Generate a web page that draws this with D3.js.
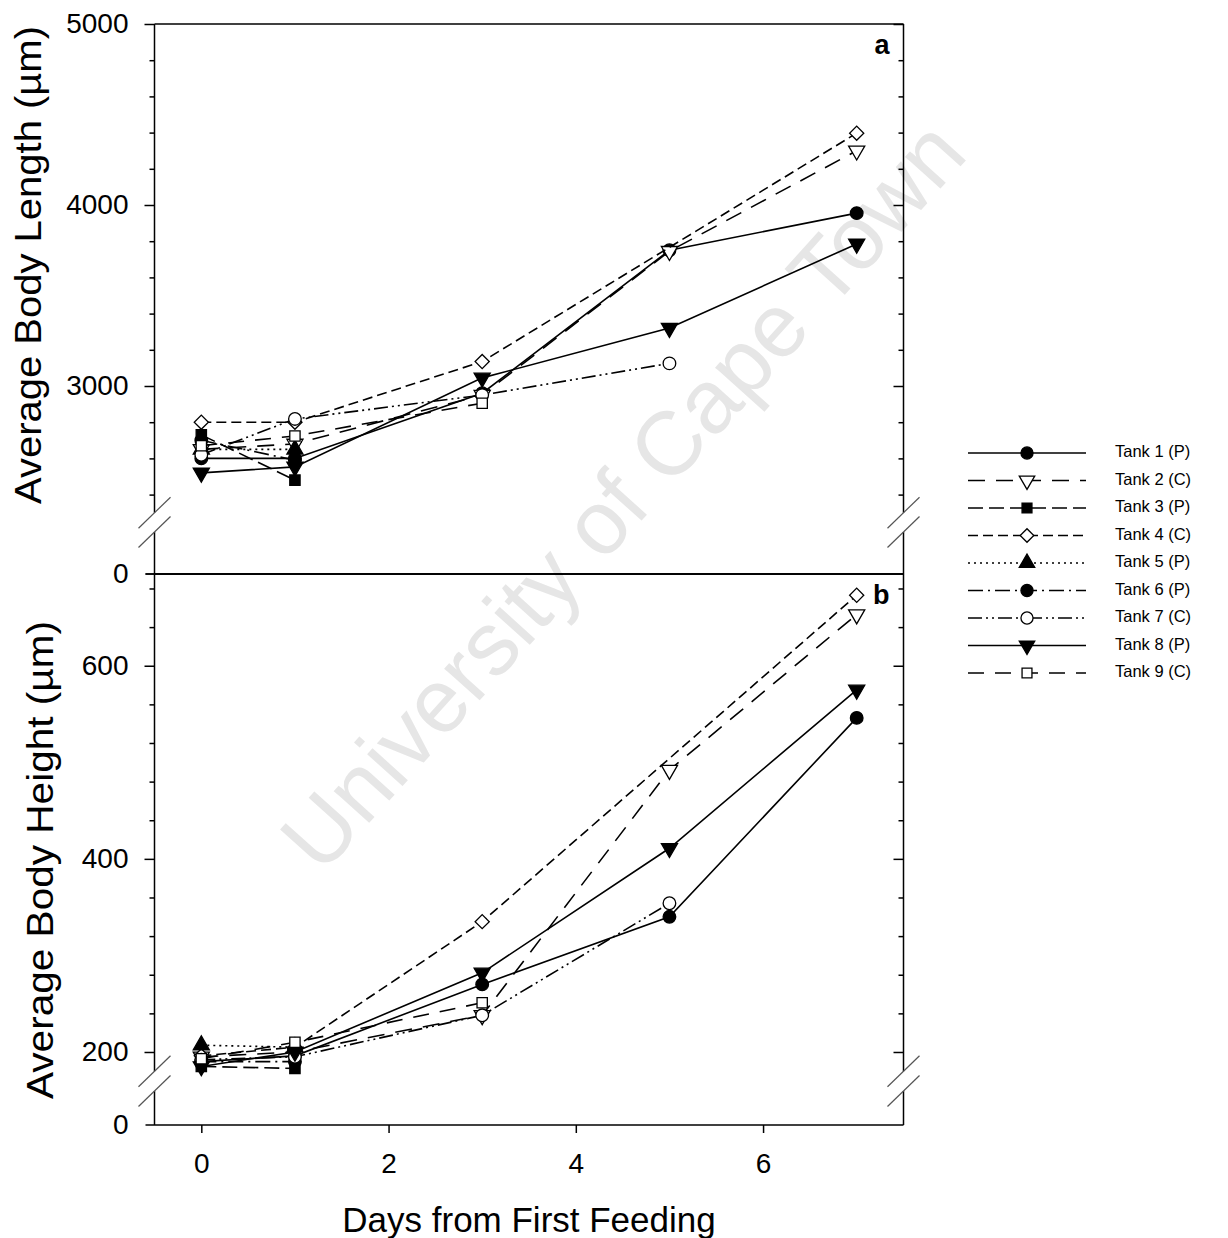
<!DOCTYPE html>
<html lang="en">
<head>
  <meta charset="UTF-8">
  <title>Body length and height</title>
  <script src="https://cdn.jsdelivr.net/npm/d3@7"></script>
  <style>
    body { margin: 0; background: #fff; }
    svg { display: block; }
    text { font-family: "Liberation Sans", Arial, sans-serif; fill: #000; }
  </style>
</head>
<body>
  <svg id="chart" width="1228" height="1238"></svg>
  <script>
    // Data (null = no sample that day)
    const days = [0, 1, 3, 5, 7];
    const tanks = ["Tank 1 (P)", "Tank 2 (C)", "Tank 3 (P)", "Tank 4 (C)", "Tank 5 (P)",
                   "Tank 6 (P)", "Tank 7 (C)", "Tank 8 (P)", "Tank 9 (C)"];

    // panel a: average body length (um)
    const bodyLength = [
      [2600, 2600, 2960, 3750, 3955],
      [2650, 2680, 2950, 3745, 4300],
      [2730, 2480, null, null, null],
      [2800, 2800, 3135, null, 4397],
      [2650, 2650, null, null, null],
      [2700, 2590, null, null, null],
      [2620, 2818, 2950, 3125, null],
      [2520, 2553, 3045, 3320, 3785],
      [2670, 2724, 2905, null, null]
    ];
    // panel b: average body height (um)
    const bodyHeight = [
      [190, 196, 270, 340, 546],
      [195, 200, 238, 492, 653],
      [185, 183, null, null, null],
      [196, 205, 335, null, 673],
      [207, 205, null, null, null],
      [190, 190, null, null, null],
      [192, 195, 238, 354, null],
      [185, 200, 282, 411, 575],
      [193, 210, 251, null, null]
    ];

    const xTicks = [0, 2, 4, 6];
    const lengthTicks = [3000, 4000, 5000];
    const heightTicks = [200, 400, 600];

    const symbols = ["circle", "triDownOpen", "square", "diamondOpen", "triUp",
                     "circle", "circleOpen", "triDown", "squareOpen"];
    const dashes = [null, "17,11", "15,6", "10,5", "2,4", "15,5,2,5", "14,4,2,4,2,4", null, "16,11"];

    const svg = d3.select("#chart");
    const left = 154.5, right = 903.5;

    // watermark
    svg.append("text")
      .attr("transform", "translate(628,500) rotate(-48)")
      .attr("text-anchor", "middle")
      .attr("dominant-baseline", "middle")
      .style("font-size", "90px")
      .style("fill", "#e6e6e6")
      .text("University of Cape Town");

    const x = d3.scaleLinear().domain([-0.5, 7.5]).range([left, right]);

    const panels = [
      { data: bodyLength, y: d3.scaleLinear().domain([2300, 5000]).range([512.7, 24]),
        low: d3.scaleLinear().domain([0, 100]).range([574, 532]),
        majors: lengthTicks, minorStep: 200, top: 24, label: "a",
        title: "Average Body Length (\u00b5m)", titleX: 31, titleY: 265 },
      { data: bodyHeight, y: d3.scaleLinear().domain([180, 695]).range([1071.3, 574]),
        low: d3.scaleLinear().domain([0, 10]).range([1125, 1091]),
        majors: heightTicks, minorStep: 40, top: 574, label: "b",
        title: "Average Body Height (\u00b5m)", titleX: 43, titleY: 860 }
    ];

    function markerPath(kind, size) {
      const base = kind.replace("Open", "");
      let type = d3.symbolCircle, s = size, rot = 0;
      if (base === "square") { type = d3.symbolSquare; s = size * 0.85; }
      if (base === "diamond") { type = d3.symbolSquare; s = size * 0.8; rot = 45; }
      if (base === "triUp") { type = d3.symbolTriangle; s = size * 0.9; }
      if (base === "triDown") { type = d3.symbolTriangle; s = size * 0.9; rot = 180; }
      return { d: d3.symbol().type(type).size(s)(), rot, open: kind.endsWith("Open") };
    }

    function drawMarker(g, kind, cx, cy, size) {
      const m = markerPath(kind, size);
      g.append("path")
        .attr("d", m.d)
        .attr("transform", `translate(${cx},${cy}) rotate(${m.rot})`)
        .attr("fill", m.open ? "#fff" : "#000")
        .attr("stroke", "#000")
        .attr("stroke-width", 1.3);
    }

    panels.forEach(p => {
      const g = svg.append("g");
      const yTop = p.y.range()[1], yBreak = p.y.range()[0];
      const lowTop = p.low.range()[1], lowBottom = p.low.range()[0];

      // series
      p.data.forEach((row, t) => {
        const pts = days.map((d, i) => ({ d, v: row[i] })).filter(q => q.v != null);
        g.append("path")
          .datum(pts)
          .attr("fill", "none")
          .attr("stroke", "#000")
          .attr("stroke-width", 1.6)
          .attr("stroke-dasharray", dashes[t])
          .attr("d", d3.line().x(q => x(q.d)).y(q => p.y(q.v)));
        pts.forEach(q => drawMarker(g, symbols[t], x(q.d), p.y(q.v), 125));
      });

      // axis lines (broken)
      [left, right].forEach(ax => {
        g.append("line").attr("x1", ax).attr("x2", ax).attr("y1", yTop).attr("y2", yBreak)
          .attr("stroke", "#000").attr("stroke-width", 1.5);
        g.append("line").attr("x1", ax).attr("x2", ax).attr("y1", lowTop).attr("y2", lowBottom)
          .attr("stroke", "#000").attr("stroke-width", 1.5);
        [yBreak, lowTop].forEach(yb => {
          g.append("line")
            .attr("x1", ax - 16).attr("y1", yb + 15.5)
            .attr("x2", ax + 16).attr("y2", yb - 15.5)
            .attr("stroke", "#555").attr("stroke-width", 1.2);
        });
      });
      // top and bottom edges
      g.append("line").attr("x1", left).attr("x2", right).attr("y1", yTop).attr("y2", yTop)
        .attr("stroke", "#000").attr("stroke-width", 1.5);
      g.append("line").attr("x1", left - 9).attr("x2", right).attr("y1", lowBottom).attr("y2", lowBottom)
        .attr("stroke", "#000").attr("stroke-width", 1.5);

      const lo = p.y.domain()[0], hi = p.y.domain()[1];
      const minors = d3.range(Math.ceil(lo / p.minorStep) * p.minorStep, hi + 1, p.minorStep)
        .filter(v => !p.majors.includes(v));

      // left major ticks + labels
      const la = g.append("g").attr("transform", `translate(${left},0)`)
        .call(d3.axisLeft(p.y).tickValues(p.majors).tickSize(10).tickPadding(16).tickFormat(d3.format("d")));
      la.append("g").call(d3.axisLeft(p.low).tickValues([0]).tickSize(0).tickPadding(26));
      const lm = g.append("g").attr("transform", `translate(${left},0)`)
        .call(d3.axisLeft(p.y).tickValues(minors).tickSize(5).tickFormat(""));
      // right ticks, inward
      const ra = g.append("g").attr("transform", `translate(${right},0)`)
        .call(d3.axisLeft(p.y).tickValues(p.majors).tickSize(10).tickFormat(""));
      const rm = g.append("g").attr("transform", `translate(${right},0)`)
        .call(d3.axisLeft(p.y).tickValues(minors).tickSize(5).tickFormat(""));
      [la, lm, ra, rm].forEach(a => {
        a.selectAll(".domain").remove();
        a.selectAll("line").attr("stroke-width", 1.5);
        a.selectAll("text").style("font-size", "28px").style("font-family", "'Liberation Sans', Arial, sans-serif");
      });

      // panel letter
      g.append("text")
        .attr("x", right - 14).attr("y", yTop + 30)
        .attr("text-anchor", "end")
        .style("font-size", "27px").style("font-weight", "bold")
        .text(p.label);

      // y title
      g.append("text")
        .attr("transform", `translate(${p.titleX},${p.titleY}) rotate(-90)`)
        .attr("text-anchor", "middle")
        .attr("dominant-baseline", "middle")
        .attr("textLength", 478)
        .attr("lengthAdjust", "spacingAndGlyphs")
        .style("font-size", "36px")
        .text(p.title);
    });

    // divider between panels
    svg.append("line").attr("x1", left - 9).attr("x2", right).attr("y1", 574).attr("y2", 574)
      .attr("stroke", "#000").attr("stroke-width", 1.5);

    // x axis
    const xa = svg.append("g").attr("transform", "translate(0,1125)")
      .call(d3.axisBottom(x).tickValues(xTicks).tickSize(8).tickPadding(20));
    xa.select(".domain").remove();
    xa.selectAll("line").attr("stroke-width", 1.5);
    xa.selectAll("text").style("font-size", "28px").style("font-family", "'Liberation Sans', Arial, sans-serif");

    svg.append("text")
      .attr("x", x(3.5)).attr("y", 1232)
      .attr("text-anchor", "middle")
      .style("font-size", "35px")
      .text("Days from First Feeding");

    // legend
    const leg = svg.append("g");
    tanks.forEach((name, t) => {
      const ly = 453 + t * 27.5;
      leg.append("line")
        .attr("x1", 968).attr("x2", 1086).attr("y1", ly).attr("y2", ly)
        .attr("stroke", "#000").attr("stroke-width", 1.6)
        .attr("stroke-dasharray", dashes[t]);
      drawMarker(leg, symbols[t], 1027, ly, 115);
      leg.append("text")
        .attr("x", 1115).attr("y", ly)
        .attr("dominant-baseline", "middle")
        .style("font-size", "16.5px")
        .text(name);
    });
  </script>
</body>
</html>
